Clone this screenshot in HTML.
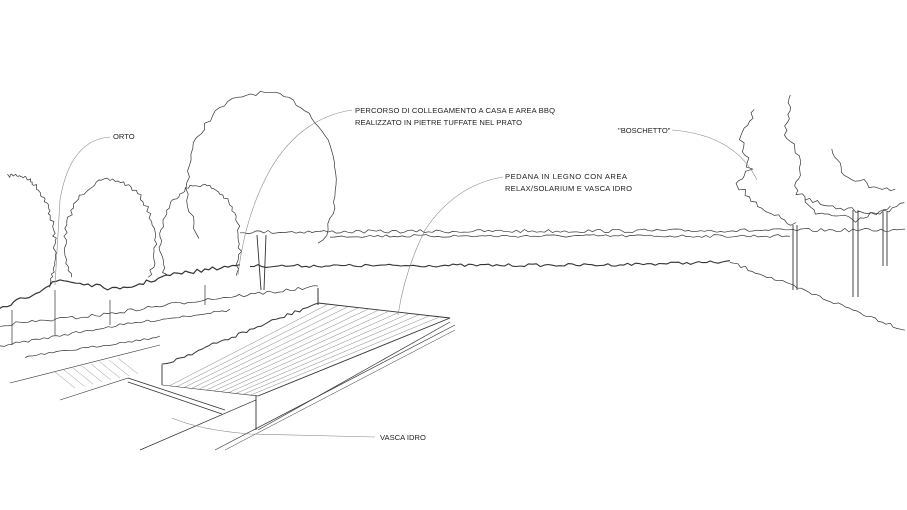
<!DOCTYPE html>
<html><head><meta charset="utf-8"><style>
html,body{margin:0;padding:0;background:#fff;}
svg{display:block}
text{font-family:"Liberation Sans",sans-serif;font-size:7.6px;fill:#222}
</style></head><body>
<svg id="s" width="907" height="510" viewBox="0 0 907 510" xmlns="http://www.w3.org/2000/svg">
<g id="g" fill="none" stroke="#333" stroke-width="0.7" stroke-linejoin="round"></g>
<g fill="none" stroke="#888" stroke-width="0.6">
<path d="M110,137 Q70,140 60,200 L55,285"/>
<path d="M352,110 Q300,118 270,170 Q245,215 238,275"/>
<path d="M503,177 Q455,185 425,230 Q405,270 398,315"/>
<path d="M672,130 Q735,135 757,180"/>
<path d="M375,437 L250,434 Q200,430 172,418"/>
</g>
<text x="113" y="139">ORTO</text>
<text x="355" y="113" textLength="200">PERCORSO DI COLLEGAMENTO A CASA E AREA BBQ</text>
<text x="355" y="125" textLength="167">REALIZZATO IN PIETRE TUFFATE NEL PRATO</text>
<text x="505" y="179" textLength="122">PEDANA IN LEGNO CON AREA</text>
<text x="505" y="191" textLength="127">RELAX/SOLARIUM E VASCA IDRO</text>
<text x="618" y="133">"BOSCHETTO"</text>
<text x="380" y="440">VASCA IDRO</text>
</svg>
<script>
var g=document.getElementById('g');var seed=7;
function r(){seed=(seed*16807)%2147483647;return seed/2147483647;}
function add(d,w,c){var p=document.createElementNS('http://www.w3.org/2000/svg','path');p.setAttribute('d',d);if(w)p.setAttribute('stroke-width',w);if(c)p.setAttribute('stroke',c);g.appendChild(p);}
function wob(pts,amp,step,w){var d='';for(var i=0;i<pts.length-1;i++){var a=pts[i],b=pts[i+1];var dx=b[0]-a[0],dy=b[1]-a[1];var L=Math.hypot(dx,dy);var n=Math.max(1,Math.round(L/step));var nx=-dy/L,ny=dx/L;for(var k=0;k<=n;k++){if(i>0&&k==0)continue;var t=k/n;var j=(r()-0.5)*2*amp;var x=a[0]+dx*t+nx*j,y=a[1]+dy*t+ny*j;d+=(d?'L':'M')+x.toFixed(1)+','+y.toFixed(1);}}add(d,w);}
function arc(cx,cy,rx,ry,a0,a1,amp,w){var pts=[];var n=70;for(var i=0;i<=n;i++){var a=(a0+(a1-a0)*i/n)*Math.PI/180;pts.push([cx+rx*Math.cos(a),cy-ry*Math.sin(a)]);}wob(pts,amp||2,4,w);}
function ln(x1,y1,x2,y2,w,c){add('M'+x1+','+y1+'L'+x2+','+y2,w||0.6,c);}
// trees
arc(15,250,40,75,100,-30,2);
arc(110,245,45,65,210,-30,2);
arc(200,245,40,60,210,-30,2);
arc(262,185,75,92,215,-40,2.2);
// hedge horizon
wob([[240,232],[905,230]],1.8,4);wob([[330,236],[790,236]],1.5,4);
wob([[250,266],[600,265],[730,262]],1.5,4,1.1);
wob([[730,262],[905,330]],1.8,4);
// right trees (wobbly lines)
wob([[755,110],[740,140],[750,170],[738,185],[760,210],[795,225]],3,4);
wob([[790,95],[785,130],[800,160],[795,190],[820,215],[860,220],[890,205]],3,4);
wob([[830,150],[845,175],[870,185],[895,190]],3,4);
wob([[805,200],[840,210],[880,212],[905,205]],3,4);
ln(793,225,793,290,0.9);ln(797,225,797,290,0.9);
ln(853,210,853,297,0.9);ln(858,210,858,297,0.9);
ln(883,212,883,266,0.9);ln(887,212,887,266,0.9);
// trunk near big tree
ln(257,235,261,290,0.9);ln(266,235,264,290,0.9);
// left hedges
wob([[0,310],[60,280],[120,290],[170,275],[240,265]],2,4,1.2);
wob([[0,325],[100,315],[200,300],[318,287]],1.8,4);
wob([[0,346],[120,325],[230,310]],1.2,4);
wob([[25,357],[160,337]],1,4);
wob([[162,365],[250,330],[318,303]],1.8,4,1);
ln(318,288,318,305,1);
ln(12,310,12,345,0.7);ln(55,290,55,335,0.7);ln(110,300,110,325,0.7);ln(205,285,205,305,0.7);
// deck
ln(318,303,450,318,0.9);ln(450,318,258,396,0.9);ln(450,322,258,430,0.7);ln(162,365,162,385,0.9);
ln(256,395,256,430,0.9);ln(162,385,258,396,0.6);
for(var i=1;i<13;i++){var t=i/13;ln(162+96*t,385+11*t,318+132*t,303+15*t,0.4,'#666');}
ln(128,378,225,410,0.8);ln(128,382,222,414,0.8);
ln(140,450,256,400,0.7);ln(215,450,455,325,0.7);ln(225,450,455,330,0.5);
ln(10,383,160,345,0.6);ln(60,400,128,378,0.6);
for(var i=0;i<8;i++){ln(55+i*9,372-i*2,75+i*9,388-i*2,0.4,'#777');}
</script>
</body></html>
